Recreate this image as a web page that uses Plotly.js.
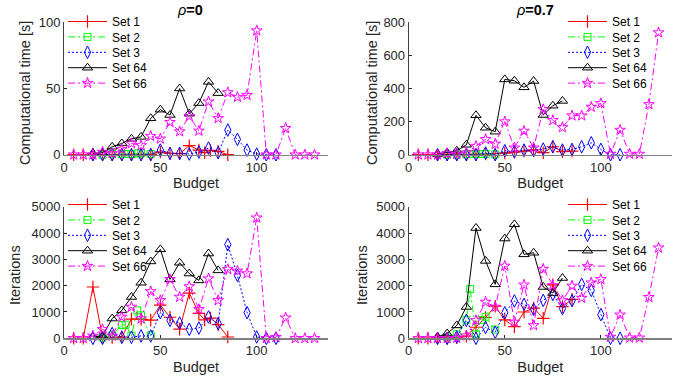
<!DOCTYPE html>
<html><head><meta charset="utf-8">
<script src="https://cdn.plot.ly/plotly-3.0.1.min.js"></script>
<style>html,body{margin:0;padding:0;background:#fff}#c{width:694px;height:384px}</style>
</head><body><div id="c"></div>
<script>
// Budgets (x values)
const budgetSet1R0  = [5,10,15,20,25,30,35,40,45,50,55,60,65,70,73,76,80,85];
const budgetSet1R7  = [5,10,15,20,25,30,35,40,45,50,55,60,65,70,75,80,85];
const budgetSet2    = [20,25,30,32,35,38,40,45];
const budgetSet3    = [15,20,25,30,35,40,45,50,55,60,65,70,75,80,85,90,95,100,105,110];
const budgetSet64   = [15,20,25,30,35,40,45,50,55,60,65,70,75,80];
const budgetSet66   = [5,10,15,20,25,30,35,40,45,50,55,60,65,70,75,80,85,90,95,100,105,110,115,120,125,130];

// rho = 0 : computational time [s]
const timeR0Set1  = [0,0,0.3,0,0,0,0.2,0.3,0.3,2,1,0.8,6.8,3.5,1.5,3.2,2.5,0];
const timeR0Set2  = [0,0.5,0.5,0.5,0.5,1,1,0.5];
const timeR0Set3  = [0,0,0,0,0,0,0,3.5,1,1,0.5,2,5,1.5,18.6,11.6,3.5,0.5,0,0];
const timeR0Set64 = [1,1.5,6,8.5,12,13.5,27.5,34,30,50,31,39,55,46.5];
const timeR0Set66 = [0,0,0,2,1,4,8.5,7,14,12,24.5,17.5,29,18,40,27.5,47,43.5,45,93.7,0,0,20,0,0,0];

// rho = 0.7 : computational time [s]
const timeR7Set1  = [0,0,0,0,0,0,2,4,6,10,15,22,30,12,48,18,22];
const timeR7Set2  = [0,1,2,4,4,4,4,2];
const timeR7Set3  = [0,0,0,0,0,10,0,24,18,28,24,34,48,28,32,48,72,32,0,0];
const timeR7Set64 = [4,12,24,60,238,163,139,455,447,407,445,240,296,325];
const timeR7Set66 = [0,0,0,8,4,12,52,93,65,200,42,143,42,274,208,165,236,236,288,310,4,149,4,4,304,738];

// rho = 0 : iterations
const iterR0Set1  = [0,0,1950,40,30,50,730,730,690,1260,800,350,1720,950,700,770,520,50];
const iterR0Set2  = [30,110,500,520,100,1060,870,110];
const iterR0Set3  = [0,0,180,40,40,90,90,975,680,580,340,390,810,560,3560,2390,975,50,0,0];
const iterR0Set64 = [50,90,750,1060,1570,2110,2920,3380,2240,2870,2460,2200,3220,2580];
const iterR0Set66 = [0,0,90,340,90,810,1190,750,1780,1440,2240,1570,1970,1100,2270,1440,2620,2560,2460,4580,0,40,780,0,0,0];

// rho = 0.7 : iterations
const iterR7Set1  = [0,0,0,0,20,80,420,790,1220,700,440,1000,1150,760,2030,1200,1480];
const iterR7Set2  = [30,150,700,1870,150,700,820,330];
const iterR7Set3  = [0,0,50,680,0,410,230,970,1420,1290,1100,1440,1670,1130,1430,2050,1820,900,0,0];
const iterR7Set64 = [50,180,490,1190,4190,2940,2050,3790,4330,3190,3250,1950,1720,2290];
const iterR7Set66 = [0,0,0,0,10,100,680,1380,1190,2750,620,2030,490,2630,2010,1440,1990,1530,2110,2240,50,890,20,20,1560,3440];

const seriesNames = ['Set 1','Set 2','Set 3','Set 64','Set 66'];
const xTickVals = [0,50,100];
const yTitleTime = 'Computational time [s]';
const yTitleIter = 'Iterations';
const xTitle = 'Budget';

const DD = '7px,3px,2px,3px';
function styleOf(i) {
  const s = [
    {line:{color:'#ff0000',width:1,dash:'solid'}, marker:{symbol:'cross-thin-open',size:9,color:'#ff0000',line:{color:'#ff0000',width:1.2}}},
    {line:{color:'#00ff00',width:1,dash:DD}, marker:{symbol:'square-open',size:7,color:'#00ff00',line:{color:'#00ff00',width:1}}},
    {line:{color:'#0000ff',width:1,dash:'2px,2px'}, marker:{symbol:'diamond-tall-open',size:9,color:'#0000ff',line:{color:'#0000ff',width:1}}},
    {line:{color:'#000000',width:1,dash:'solid'}, marker:{symbol:'triangle-up-open',size:9,color:'#000000',line:{color:'#000000',width:1}}},
    {line:{color:'#ff00ff',width:1,dash:DD}, marker:{symbol:'star-open',size:8,color:'#ff00ff',line:{color:'#ff00ff',width:1}}}
  ];
  return s[i];
}

const panels = [
  {xa:'x', ya:'y', leg:'legend', xs:[budgetSet1R0,budgetSet2,budgetSet3,budgetSet64,budgetSet66], ys:[timeR0Set1,timeR0Set2,timeR0Set3,timeR0Set64,timeR0Set66]},
  {xa:'x2',ya:'y2',leg:'legend2',xs:[budgetSet1R7,budgetSet2,budgetSet3,budgetSet64,budgetSet66], ys:[timeR7Set1,timeR7Set2,timeR7Set3,timeR7Set64,timeR7Set66]},
  {xa:'x3',ya:'y3',leg:'legend3',xs:[budgetSet1R0,budgetSet2,budgetSet3,budgetSet64,budgetSet66], ys:[iterR0Set1,iterR0Set2,iterR0Set3,iterR0Set64,iterR0Set66]},
  {xa:'x4',ya:'y4',leg:'legend4',xs:[budgetSet1R7,budgetSet2,budgetSet3,budgetSet64,budgetSet66], ys:[iterR7Set1,iterR7Set2,iterR7Set3,iterR7Set64,iterR7Set66]}
];

const data = [];
panels.forEach(p => {
  for (let i = 0; i < 5; i++) {
    const st = styleOf(i);
    data.push({
      type:'scatter', mode:'lines+markers', name:seriesNames[i],
      x:p.xs[i], y:p.ys[i], xaxis:p.xa, yaxis:p.ya, legend:p.leg,
      line:st.line, marker:st.marker, cliponaxis:false
    });
  }
});

const W = 694, H = 384;
const FONT = 'Liberation Sans, Arial, sans-serif';
const TXT = '#262626';
function xax(l, r, anchor) {
  return {domain:[l/W, r/W], range:[0,137], anchor:anchor, tickvals:xTickVals,
    showline:true, linecolor:'#808080', linewidth:1.5, ticks:'inside', ticklen:3, tickcolor:TXT,
    showgrid:false, zeroline:false, tickfont:{family:FONT,size:13,color:TXT},
    title:{text:xTitle, font:{family:FONT,size:14.5,color:TXT}, standoff:4}};
}
function yax(t, b, anchor, max) {
  return {domain:[1-b/H, 1-t/H], range:[0,max], anchor:anchor,
    showline:true, linecolor:'#404040', linewidth:1, ticks:'inside', ticklen:3, tickcolor:TXT,
    showgrid:false, zeroline:false, tickfont:{family:FONT,size:13,color:TXT}};
}
function leg(x, y) {
  return {x:x/W, y:1-y/H, xanchor:'left', yanchor:'top', bgcolor:'rgba(255,255,255,0)', borderwidth:0,
    font:{family:FONT,size:12,color:'#000'}, itemwidth:39, tracegroupgap:0};
}
function ytitle(text, cx, cy) {
  return {text:text, x:cx/W, y:1-cy/H, xref:'paper', yref:'paper', showarrow:false, textangle:-90,
    xanchor:'center', yanchor:'middle', font:{family:FONT,size:14.5,color:TXT}};
}
function ptitle(text, cx, cy) {
  return {text:text, x:cx/W, y:1-cy/H, xref:'paper', yref:'paper', showarrow:false,
    xanchor:'center', yanchor:'middle', font:{family:FONT,size:14.5,color:'#000'}};
}
const layout = {
  width:W, height:H, margin:{l:0,r:0,t:0,b:0}, paper_bgcolor:'#fff', plot_bgcolor:'#fff',
  showlegend:true,
  xaxis: xax(64, 328, 'y'),     yaxis: yax(22.3, 154.7, 'x', 100),
  xaxis2:xax(408.7, 672, 'y2'), yaxis2:yax(22.3, 154.7, 'x2', 800),
  xaxis3:xax(64, 328, 'y3'),    yaxis3:yax(206.7, 338.3, 'x3', 5000),
  xaxis4:xax(408.7, 672, 'y4'), yaxis4:yax(206.7, 338.3, 'x4', 5000),
  legend: leg(63, 7), legend2: leg(563, 7), legend3: leg(63, 190), legend4: leg(563, 190),
  annotations:[
    ptitle('<i>\u03C1</i><b>=0</b>', 190, 10),
    ptitle('<i>\u03C1</i><b>=0.7</b>', 535, 10),
    ytitle(yTitleTime, 25, 93),
    ytitle(yTitleTime, 372, 93),
    ytitle(yTitleIter, 15, 275),
    ytitle(yTitleIter, 362, 275)
  ]
};
const ROW = 15.4; // legend row pitch as in the reference
Plotly.newPlot('c', data, layout, {staticPlot:true, displayModeBar:false}).then(gd => {
  ['legend','legend2','legend3','legend4'].forEach(id => {
    const items = gd.querySelectorAll('g.' + id + ' g.traces');
    if (!items.length) return;
    const parse = el => {
      const m = /translate\(\s*([-\d.e]+)[ ,]+([-\d.e]+)/.exec(el.getAttribute('transform') || '');
      return m ? [+m[1], +m[2]] : [0, 0];
    };
    const y0 = parse(items[0])[1];
    items.forEach((el, i) => {
      const p = parse(el);
      el.setAttribute('transform', 'translate(' + p[0] + ',' + (y0 + i * ROW) + ')');
    });
  });
});
</script></body></html>
